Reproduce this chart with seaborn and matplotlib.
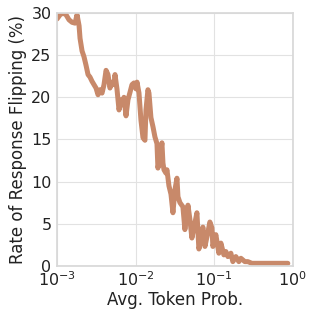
import numpy as np
import pandas as pd
import matplotlib
matplotlib.use("Agg")
import matplotlib.pyplot as plt
import seaborn as sns

# avg token probability (x) vs rate of response flipping in % (y)
token_prob = [
    0.00100, 0.001092, 0.001191, 0.001300, 0.001419, 0.001552, 0.001694, 0.001795,
    0.001905, 0.001960, 0.002079, 0.002203, 0.002336, 0.002477, 0.002624, 0.002784,
    0.002951, 0.003131, 0.003319, 0.003519, 0.003733, 0.003956, 0.004198, 0.004446,
    0.004710, 0.005000, 0.005297, 0.005458, 0.005781, 0.006138, 0.006501, 0.006699,
    0.007096, 0.007534, 0.007980, 0.008472, 0.008974, 0.009506, 0.01009, 0.01040,
    0.01102, 0.01167, 0.01239, 0.01312, 0.01352, 0.01432, 0.01476, 0.01563,
    0.01660, 0.01758, 0.01866, 0.01919, 0.02037, 0.02158, 0.02223, 0.02291,
    0.02427, 0.02500, 0.02649, 0.02812, 0.02979, 0.03155, 0.03350, 0.03451,
    0.03656, 0.03990, 0.04227, 0.04624, 0.04898, 0.05188, 0.05508, 0.06012,
    0.06368, 0.06561, 0.07161, 0.07603, 0.08298, 0.08790, 0.09333, 0.09597,
    0.1047, 0.1143, 0.1213, 0.1324, 0.1403, 0.1489, 0.1625, 0.1722,
    0.1880, 0.2053, 0.2178, 0.2448, 0.2672, 0.3005, 0.3581, 0.5085,
    0.6816, 0.8614,
]
flip_rate = [
    29.3, 29.8, 30.0, 29.8, 29.2, 28.9, 28.8, 29.8,
    28.5, 27.0, 25.5, 24.8, 23.8, 22.7, 22.4, 21.9,
    21.5, 21.1, 20.3, 20.9, 20.5, 21.5, 23.2, 22.7,
    21.1, 21.8, 21.5, 22.7, 21.0, 18.5, 19.7, 19.1,
    20.0, 17.8, 19.7, 20.6, 21.5, 21.7, 21.0, 21.8,
    20.5, 17.3, 15.2, 14.9, 18.5, 20.9, 20.5, 17.6,
    16.5, 15.3, 14.5, 11.6, 12.9, 14.6, 12.2, 11.4,
    11.0, 11.4, 9.5, 8.5, 6.3, 9.0, 10.4, 8.2,
    7.5, 7.0, 4.3, 7.2, 5.5, 3.3, 4.5, 6.3,
    2.0, 2.5, 4.6, 2.3, 4.0, 5.2, 4.5, 2.3,
    3.7, 1.5, 2.7, 1.3, 1.7, 1.1, 1.5, 0.5,
    1.1, 0.5, 0.9, 0.5, 0.5, 0.3, 0.3, 0.3,
    0.3, 0.3,
]

df = pd.DataFrame({"prob": token_prob, "rate": flip_rate})

sns.set_theme(style="whitegrid")
plt.rcParams["font.family"] = ["DejaVu Sans"]

fig = plt.figure(figsize=(3.17, 3.18), dpi=100)
ax = fig.add_axes([0.18, 0.164, 0.744, 0.795])

sns.lineplot(data=df, x="prob", y="rate", color="#c8896a", linewidth=3.6, ax=ax)

ax.set_xscale("log")
ax.set_xlim(1e-3, 1)
ax.set_ylim(0, 30)
ax.set_yticks([0, 5, 10, 15, 20, 25, 30])
ax.set_xlabel("Avg. Token Prob.", fontsize=12, color="#222222", labelpad=2)
ax.set_ylabel("Rate of Response Flipping (%)", fontsize=12, color="#222222", labelpad=3)
ax.tick_params(axis="y", which="both", length=0, labelsize=11.5, pad=4, labelcolor="#222222")
ax.tick_params(axis="x", which="both", length=0, labelsize=11.5, pad=3, labelcolor="#222222")
ax.grid(True, color="#e2e2e2", linewidth=0.8)
for s in ax.spines.values():
    s.set_color("#d8d8d8")

fig.savefig("out.png", dpi=100)
